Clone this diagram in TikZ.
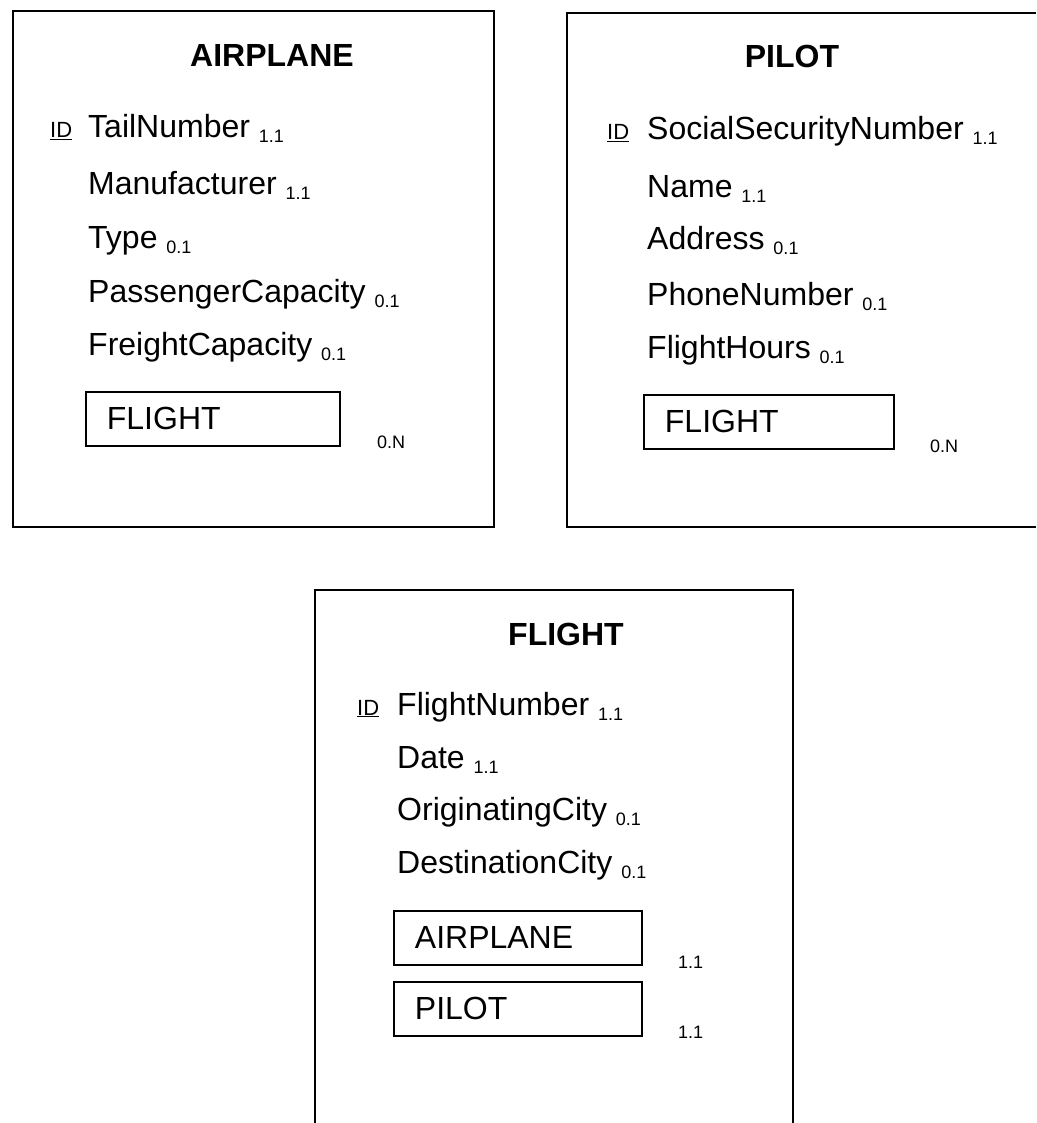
\documentclass[tikz,border=0pt]{standalone}
\usepackage{fontspec}
\setmainfont{Liberation Sans}
\newcommand\cardsub[1]{\raisebox{-5pt}{\fontsize{18}{20}\selectfont #1}}
\begin{document}
\begin{tikzpicture}[x=1pt,y=-1pt,
  frame/.style={line width=2pt},
  entitybox/.style={draw, line width=2pt, rectangle, inner sep=0pt, anchor=north west},
  title/.style={anchor=base, inner sep=0pt, font=\fontsize{32}{38}\selectfont\bfseries},
  attr/.style={anchor=base west, inner sep=0pt, font=\fontsize{32}{38}\selectfont},
  idmark/.style={anchor=base west, inner sep=0pt, font=\fontsize{22}{26}\selectfont},
  subbox/.style={draw, line width=1.8pt, rectangle, anchor=north west, inner xsep=21pt, inner ysep=0pt,
     minimum height=54pt, text width=212pt, align=left, font=\fontsize{32}{38}\selectfont},
  card/.style={anchor=base west, inner sep=0pt, font=\fontsize{18}{20}\selectfont}]
\useasboundingbox (0,0) rectangle (1036,1123);
\fill[white] (0,0) rectangle (1036,1123);

% ---------- AIRPLANE ----------
\node[entitybox, minimum width=481pt, minimum height=516pt] (airplane) at (12,10) {};
\node[title] (at) at (272,67) {AIRPLANE};
\node[idmark] (aid) at (50,138) {\underline{ID}};
\node[attr] (a1) at (88,138) {TailNumber \cardsub{1.1}};
\node[attr] (a2) at (88,195) {Manufacturer \cardsub{1.1}};
\node[attr] (a3) at (88,248) {Type \cardsub{0.1}};
\node[attr] (a4) at (88,302) {PassengerCapacity \cardsub{0.1}};
\node[attr] (a5) at (88,355) {FreightCapacity \cardsub{0.1}};
\node[subbox] (af) at (85,391) {FLIGHT};
\node[card] (afc) at (377,448) {0.N};

% ---------- PILOT ----------
\coordinate (ptr) at (1036,13);
\coordinate (pbr) at (1036,527);
\draw[frame] (ptr) -- (567,13) -- (567,527) -- (pbr);
\node[title] (pt) at (792,68) {PILOT};
\node[idmark] (pid) at (607,140) {\underline{ID}};
\node[attr] (p1) at (647,140) {SocialSecurityNumber \cardsub{1.1}};
\node[attr] (p2) at (647,198) {Name \cardsub{1.1}};
\node[attr] (p3) at (647,250) {Address \cardsub{0.1}};
\node[attr] (p4) at (647,305) {PhoneNumber \cardsub{0.1}};
\node[attr] (p5) at (647,358) {FlightHours \cardsub{0.1}};
\node[subbox, text width=208pt] (pf) at (643,394) {FLIGHT};
\node[card] (pfc) at (930,452) {0.N};

% ---------- FLIGHT ----------
\coordinate (fbl) at (315,1123);
\coordinate (fbr) at (793,1123);
\draw[frame] (fbl) -- (315,590) -- (793,590) -- (fbr);
\node[title] (ft) at (566,645) {FLIGHT};
\node[idmark] (fid) at (357,715) {\underline{ID}};
\node[attr] (f1) at (397,715) {FlightNumber \cardsub{1.1}};
\node[attr] (f2) at (397,768) {Date \cardsub{1.1}};
\node[attr] (f3) at (397,820) {OriginatingCity \cardsub{0.1}};
\node[attr] (f4) at (397,873) {DestinationCity \cardsub{0.1}};
\node[subbox, text width=206pt] (fa) at (393,910) {AIRPLANE};
\node[card] (fac) at (678,968) {1.1};
\node[subbox, text width=206pt] (fp) at (393,981) {PILOT};
\node[card] (fpc) at (678,1038) {1.1};
\end{tikzpicture}
\end{document}
